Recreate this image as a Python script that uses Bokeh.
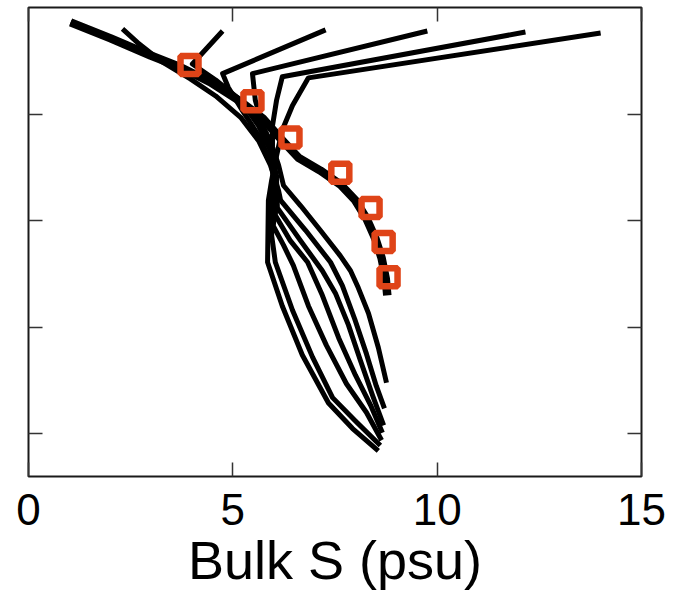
from bokeh.plotting import figure
from bokeh.models import Range1d, FixedTicker, LinearAxis, CustomJSTickFormatter
from bokeh.embed import file_html
from bokeh.resources import INLINE

# ---------------- data (bulk salinity in psu vs. depth, depth increasing downwards) -------------
x_ticks = [0, 5, 10, 15]
y_ticks = [1, 2, 3, 4]
x_label = "Bulk S (psu)"

# thick reference profile
ref_S = [1.03, 2.01, 2.99, 3.72, 4.45, 5.14, 5.73, 6.17, 6.61, 7.14, 7.63, 8.00, 8.27, 8.49, 8.64, 8.74, 8.78]
ref_z = [0.14, 0.29, 0.45, 0.56, 0.70, 0.87, 1.04, 1.23, 1.41, 1.53, 1.66, 1.81, 1.98, 2.17, 2.35, 2.54, 2.70]

# observations (squares)
obs_S = [3.94, 5.48, 6.41, 7.63, 8.37, 8.69, 8.81]
obs_z = [0.54, 0.88, 1.22, 1.55, 1.88, 2.20, 2.53]

# thin modelled profiles
prof1_S = [1.03, 2.01, 2.99, 3.72, 4.45, 5.14, 5.63, 5.92, 6.12, 6.24, 6.66, 7.14, 7.63, 7.88, 8.07, 8.32, 8.56, 8.76]
prof1_z = [0.14, 0.29, 0.45, 0.56, 0.70, 0.87, 1.04, 1.25, 1.48, 1.67, 1.86, 2.09, 2.33, 2.47, 2.63, 2.87, 3.19, 3.52]

prof2_S = [2.30, 2.67, 3.23, 3.96, 4.58, 5.19, 5.63, 5.92, 6.12, 6.17, 6.78, 7.39, 7.68, 7.98, 8.27, 8.51, 8.71]
prof2_z = [0.20, 0.33, 0.50, 0.67, 0.83, 1.03, 1.25, 1.48, 1.72, 1.81, 2.09, 2.39, 2.61, 2.92, 3.25, 3.55, 3.76]

prof3_S = [4.75, 4.01, 4.58, 5.19, 5.63, 5.92, 6.07, 6.09, 6.66, 7.19, 7.51, 7.83, 8.12, 8.42, 8.69]
prof3_z = [0.22, 0.53, 0.68, 0.87, 1.11, 1.34, 1.62, 1.88, 2.19, 2.47, 2.68, 2.98, 3.31, 3.64, 3.92]

prof4_S = [7.27, 4.75, 4.89, 5.24, 5.63, 5.92, 6.07, 6.04, 6.41, 6.83, 7.19, 7.59, 8.00, 8.37, 8.66]
prof4_z = [0.21, 0.62, 0.75, 0.97, 1.20, 1.44, 1.72, 1.95, 2.19, 2.39, 2.70, 3.10, 3.45, 3.73, 3.99]

prof5_S = [9.76, 5.48, 5.55, 5.73, 5.92, 6.07, 6.04, 5.99, 6.24, 6.48, 6.85, 7.29, 7.78, 8.27, 8.64]
prof5_z = [0.22, 0.62, 0.87, 1.11, 1.34, 1.58, 1.81, 2.05, 2.23, 2.42, 2.80, 3.17, 3.53, 3.80, 4.06]

prof6_S = [12.16, 6.21, 6.07, 5.97, 5.97, 5.99, 5.95, 5.95, 6.04, 6.46, 6.95, 7.44, 8.00, 8.61]
prof6_z = [0.23, 0.65, 0.87, 1.11, 1.34, 1.62, 1.90, 2.14, 2.39, 2.84, 3.28, 3.66, 3.88, 4.11]

prof7_S = [14.00, 6.85, 6.46, 6.21, 6.07, 5.95, 5.87, 5.85, 6.21, 6.70, 7.34, 7.93, 8.56]
prof7_z = [0.24, 0.66, 0.92, 1.15, 1.39, 1.62, 1.81, 2.39, 2.80, 3.26, 3.71, 3.95, 4.16]

thin_profiles = [(prof1_S, prof1_z), (prof2_S, prof2_z), (prof3_S, prof3_z), (prof4_S, prof4_z),
                 (prof5_S, prof5_z), (prof6_S, prof6_z), (prof7_S, prof7_z)]

# ---------------- figure -------------
FONT = "Liberation Sans"

p = figure(width=677, height=593, output_backend="svg", toolbar_location=None,
           x_range=Range1d(0, 15), y_range=Range1d(4.40, 0.0),
           min_border_left=28, min_border_right=36, min_border_top=7, min_border_bottom=117,
           x_axis_location=None, y_axis_location=None)
p.grid.visible = False
p.background_fill_color = "white"
p.border_fill_color = "white"
p.outline_line_color = "#1a1a1a"
p.outline_line_width = 2


def style_axis(ax, ticks, show_labels):
    ax.ticker = FixedTicker(ticks=ticks)
    ax.major_tick_in = 14
    ax.major_tick_out = 0
    ax.minor_tick_in = 0
    ax.minor_tick_out = 0
    ax.axis_line_color = None
    ax.major_tick_line_color = "#333333"
    ax.major_tick_line_width = 1.5
    if show_labels:
        ax.major_label_text_font = FONT
        ax.major_label_text_font_size = "44px"
        ax.major_label_text_color = "black"
        ax.major_label_standoff = 17
    else:
        ax.formatter = CustomJSTickFormatter(code="return ''")
        ax.major_label_standoff = 0
        ax.major_label_text_font_size = "1px"


xb = LinearAxis(axis_label=x_label)
style_axis(xb, x_ticks, True)
xb.axis_label_text_font = FONT
xb.axis_label_text_font_size = "54px"
xb.axis_label_text_font_style = "normal"
xb.axis_label_text_color = "black"
xb.axis_label_standoff = 2
p.add_layout(xb, "below")

xt = LinearAxis()
style_axis(xt, x_ticks, False)
p.add_layout(xt, "above")

yl = LinearAxis()
style_axis(yl, y_ticks, False)
p.add_layout(yl, "left")

yr = LinearAxis()
style_axis(yr, y_ticks, False)
p.add_layout(yr, "right")

for s, z in thin_profiles:
    p.line(s, z, line_color="black", line_width=5, line_join="round")

p.line(ref_S, ref_z, line_color="black", line_width=8.5, line_join="round")

p.scatter(obs_S, obs_z, marker="square", size=18, fill_color=None,
          line_color="#DF4418", line_width=6.5)

open("out.html", "w").write(file_html(p, INLINE))
